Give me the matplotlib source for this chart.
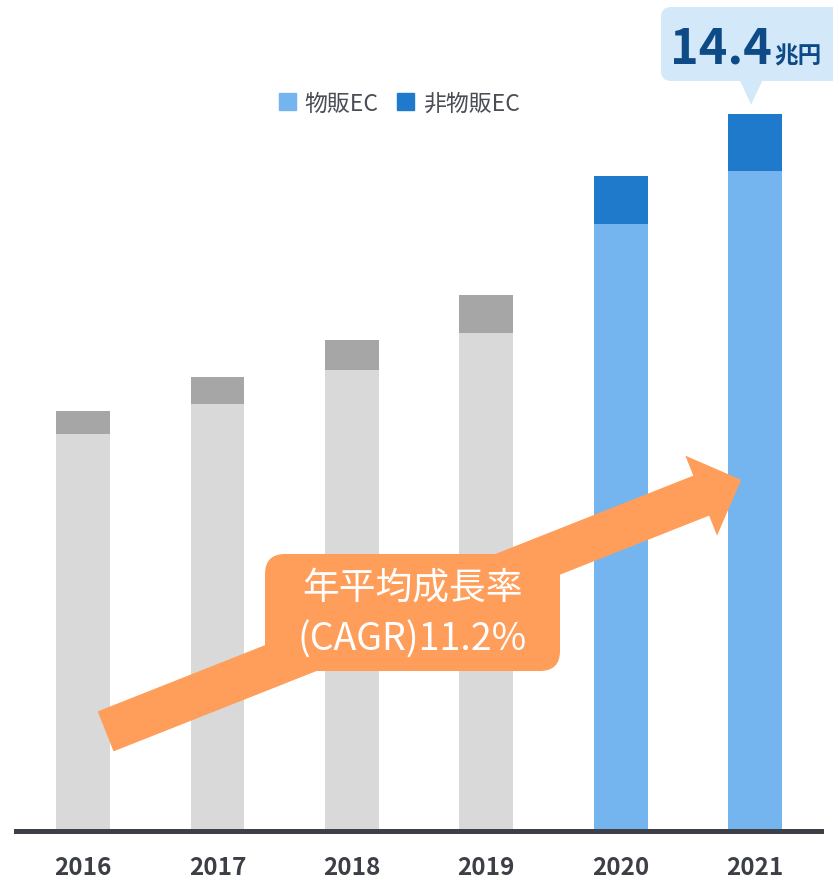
"""EC market size chart (物販EC / 非物販EC), 2016-2021."""

import matplotlib
matplotlib.use('Agg')
import matplotlib.pyplot as plt
from matplotlib.patches import FancyArrow, FancyBboxPatch, Polygon, Patch
from matplotlib.transforms import IdentityTransform

plt.rcParams['font.family'] = ['Noto Sans CJK JP', 'DejaVu Sans']

# --- data (兆円) ---
years = ['2016', '2017', '2018', '2019', '2020', '2021']
goods_ec = [7.96, 8.58, 9.26, 10.00, 12.19, 13.24]      # 物販EC
non_goods_ec = [0.48, 0.54, 0.60, 0.77, 0.96, 1.16]     # 非物販EC
highlight = [False, False, False, False, True, True]    # 2020-2021 in colour
total_label = '14.4'
cagr_label = ['年平均成長率', '(CAGR)11.2%']

# colours
LIGHT_BLUE = '#74B5F0'
DARK_BLUE = '#1F7ACC'
LIGHT_GRAY = '#D9D9D9'
DARK_GRAY = '#A6A6A6'
ORANGE = '#FF9E5B'
CALLOUT = '#D3E8F9'
NAVY = '#0E4A86'
AXIS = '#3D4048'
TEXT = '#4A4D55'

W, H = 833, 879
fig = plt.figure(figsize=(W / 100, H / 100), dpi=100)
ax = fig.add_axes([16 / W, 47 / H, 805 / W, 797 / H])

x = range(len(years))
lower_colors = [LIGHT_BLUE if h else LIGHT_GRAY for h in highlight]
upper_colors = [DARK_BLUE if h else DARK_GRAY for h in highlight]
ax.bar(x, goods_ec, width=0.4, color=lower_colors, zorder=1)
ax.bar(x, non_goods_ec, bottom=goods_ec, width=0.4, color=upper_colors, zorder=1)

ax.set_xlim(-0.5, 5.49)
ax.set_ylim(0, 16)
for side in ['top', 'right', 'left']:
    ax.spines[side].set_visible(False)
ax.spines['bottom'].set_color(AXIS)
ax.spines['bottom'].set_linewidth(3.6)
ax.set_yticks([])
ax.set_xticks(list(x))
ax.set_xticklabels(years, fontsize=17.5, fontweight='bold', color='#3C3F46')
ax.tick_params(axis='x', length=0, pad=17)

# legend
handles = [Patch(color=LIGHT_BLUE, label='物販EC'),
           Patch(color=DARK_BLUE, label='非物販EC')]
fig.legend(handles=handles, loc='center left', bbox_to_anchor=(279 / W, 1 - 104 / H),
           ncol=2, frameon=False, fontsize=16.5, labelcolor=TEXT,
           handlelength=0.72, handleheight=0.72, handletextpad=0.4,
           columnspacing=0.8, borderpad=0, borderaxespad=0)


def to_px(xv, yv):
    px, py = ax.transData.transform((xv, yv))
    return px, py


# growth arrow (display pixels), anchored to the bars
tx, ty = to_px(0.167, 2.0)
hx, hy = to_px(4.896, 7.05)
arrow = FancyArrow(tx, ty, hx - tx, hy - ty, width=43, head_width=86,
                   head_length=43, length_includes_head=True,
                   color=ORANGE, lw=0, transform=IdentityTransform(), zorder=5)
fig.patches.append(arrow)

# CAGR label box
bx0, bx1, by0, by1 = 265, 560, H - 672, H - 555
box = FancyBboxPatch((bx0 + 20, by0 + 20), bx1 - bx0 - 40, by1 - by0 - 40,
                     boxstyle='round,pad=20,rounding_size=20',
                     fc=ORANGE, ec='none', transform=IdentityTransform(), zorder=6)
fig.patches.append(box)
cx = (bx0 + bx1) / 2
fig.text(cx / W, (H - 588) / H, cagr_label[0], ha='center', va='center',
         fontsize=26.5, color='white', zorder=7)
fig.text(cx / W, (H - 640) / H, cagr_label[1], ha='center', va='center',
         fontsize=27, color='white', zorder=7)

# total callout above the 2021 bar
total_2021 = goods_ec[-1] + non_goods_ec[-1]
px_tip, py_tip = to_px(len(years) - 1, total_2021 + 0.18)
px_tip -= 4
cb = FancyBboxPatch((661 + 10, H - 82 + 10), 200, 74 - 20,
                    boxstyle='round,pad=10,rounding_size=10',
                    fc=CALLOUT, ec='none', transform=IdentityTransform(), zorder=6)
fig.patches.append(cb)
tri = Polygon([(px_tip - 11, H - 82), (px_tip + 11, H - 82), (px_tip, py_tip)],
              closed=True, fc=CALLOUT, ec='none', transform=IdentityTransform(), zorder=6)
fig.patches.append(tri)
fig.text(772 / W, (H - 63) / H, total_label, ha='right', va='baseline',
         fontsize=35, fontweight='bold', color=NAVY, zorder=7)
fig.text(774 / W, (H - 63) / H, '兆円', ha='left', va='baseline',
         fontsize=17, fontweight='bold', color=NAVY, zorder=7)

plt.savefig('out.png', dpi=100)
